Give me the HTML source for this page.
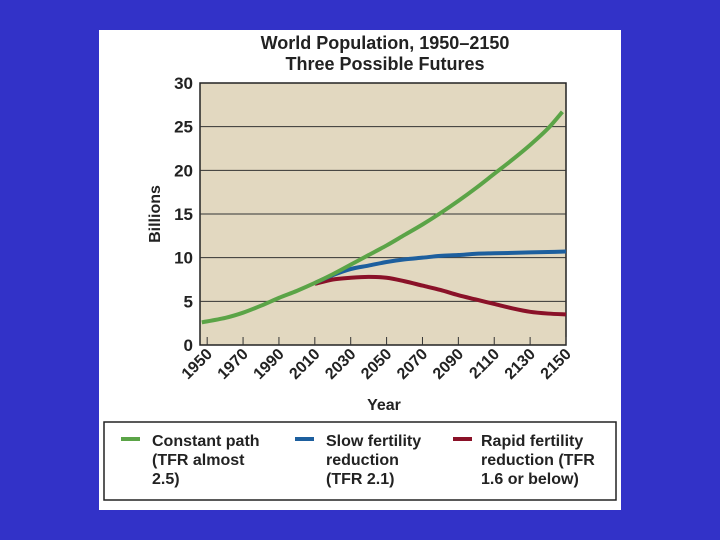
<!DOCTYPE html>
<html><head><meta charset="utf-8"><style>
body{margin:0;width:720px;height:540px;background:#3232c8;overflow:hidden;font-family:"Liberation Sans",sans-serif}
#panel{position:absolute;left:99px;top:30px;width:522px;height:480px;background:#fff}
svg{position:absolute;left:0;top:0}
.leg{position:absolute;font-weight:bold;font-size:16px;line-height:19px;color:#222}
</style></head><body>
<div id="panel"></div>
<svg id="chart" width="720" height="540">
<text x="385" y="49" text-anchor="middle" font-size="18" font-weight="bold" fill="#222">World Population, 1950–2150</text>
<text x="385" y="70" text-anchor="middle" font-size="18" font-weight="bold" fill="#222">Three Possible Futures</text>
<rect x="200" y="83" width="366" height="262" fill="#e2d8c0" stroke="#222" stroke-width="1.5"/>
<g id="grid"></g><g id="series"></g><g id="axes"></g>
<text transform="translate(160,214) rotate(-90)" text-anchor="middle" font-size="16" font-weight="bold" fill="#222">Billions</text>
<text x="384" y="410" text-anchor="middle" font-size="16" font-weight="bold" fill="#222">Year</text>
<rect x="104" y="422" width="512" height="78" fill="none" stroke="#222" stroke-width="1.5"/>
<rect x="121" y="437" width="19" height="4" fill="#5ba447"/>
<rect x="295" y="437" width="19" height="4" fill="#1d5f9e"/>
<rect x="453" y="437" width="19" height="4" fill="#8a1128"/>
</svg>
<div class="leg" style="left:152px;top:432px">Constant path<br>(TFR almost<br>2.5)</div>
<div class="leg" style="left:326px;top:432px">Slow fertility<br>reduction<br>(TFR 2.1)</div>
<div class="leg" style="left:481px;top:432px">Rapid fertility<br>reduction (TFR<br>1.6 or below)</div>
<script>
const yTicks=[0,5,10,15,20,25,30];
const xTicks=[1950,1970,1990,2010,2030,2050,2070,2090,2110,2130,2150];
const greenYears=[1947,1960,1970,1980,1990,2000,2010,2020,2030,2040,2050,2060,2070,2080,2090,2100,2110,2120,2130,2140,2148];
const greenVals=[2.6,3.1,3.7,4.5,5.4,6.2,7.1,8.1,9.2,10.3,11.4,12.6,13.8,15.1,16.5,18.0,19.6,21.2,22.9,24.8,26.7];
const blueYears=[2010,2020,2030,2040,2050,2060,2070,2080,2090,2100,2110,2120,2130,2140,2150];
const blueVals=[7.1,8.0,8.7,9.1,9.5,9.8,10.0,10.2,10.3,10.45,10.5,10.55,10.6,10.65,10.7];
const redYears=[2010,2020,2030,2040,2050,2060,2070,2080,2090,2100,2110,2120,2130,2140,2150];
const redVals=[7.0,7.5,7.7,7.8,7.7,7.3,6.8,6.3,5.7,5.2,4.7,4.2,3.8,3.6,3.5];
const NS='http://www.w3.org/2000/svg';
const X=y=>200+(y-1946)*(366/204);
const Y=v=>345-v*(262/30);
function mk(tag,attrs,parent){const e=document.createElementNS(NS,tag);for(const k in attrs)e.setAttribute(k,attrs[k]);document.getElementById(parent).appendChild(e);return e;}
yTicks.forEach(t=>{
  if(t>0&&t<30){const l=mk('line',{x1:200,x2:566,y1:Y(t),y2:Y(t),stroke:'#333','stroke-width':1},'grid');
  
  }
  const tx=mk('text',{x:193,y:Y(t)+6,'text-anchor':'end','font-size':17,'font-weight':'bold',fill:'#222'},'axes');
  tx.textContent=t;
  
  
});
xTicks.forEach(t=>{
  const l=mk('line',{x1:X(t),x2:X(t),y1:345,y2:337,stroke:'#333','stroke-width':1},'axes');
  
  
  const tx=mk('text',{transform:`translate(${X(t)+6},355) rotate(-45)`,'text-anchor':'end','font-size':16,'font-weight':'bold',fill:'#222'},'axes');
  tx.textContent=t;
  
  
});
function line(years,vals,color,name){
  let pts=years.map((y,i)=>[X(y),Y(vals[i])]);
  let d='M'+pts[0].join(',');
  for(let i=0;i<pts.length-1;i++){
    const p0=pts[i-1]||pts[i],p1=pts[i],p2=pts[i+1],p3=pts[i+2]||p2;
    const c1=[p1[0]+(p2[0]-p0[0])/6,p1[1]+(p2[1]-p0[1])/6],c2=[p2[0]-(p3[0]-p1[0])/6,p2[1]-(p3[1]-p1[1])/6];
    d+=`C${c1} ${c2} ${p2}`;
  }
  const p=mk('path',{d:d,fill:'none',stroke:color,'stroke-width':4,'stroke-linecap':'butt'},'series');
  
  
}
line(redYears,redVals,'#8a1128','rapid-fertility-line');
line(blueYears,blueVals,'#1d5f9e','slow-fertility-line');
line(greenYears,greenVals,'#5ba447','constant-path-line');
</script>
</body></html>
